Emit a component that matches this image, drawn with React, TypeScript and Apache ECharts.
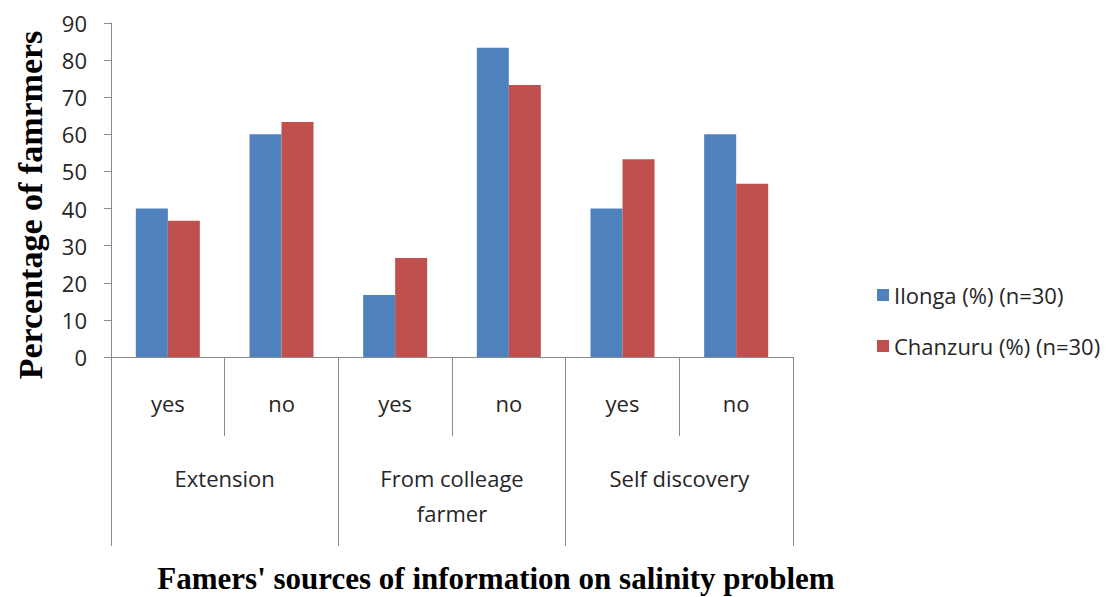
import React, { useEffect, useRef } from "react";
import * as echarts from "echarts";

const answers = ["yes", "no", "yes", "no", "yes", "no"];
const sources = ["Extension", "From colleage\nfarmer", "Self discovery"];
const ilonga = [40, 60, 16.7, 83.3, 40, 60];
const chanzuru = [36.7, 63.3, 26.7, 73.3, 53.3, 46.7];
const seriesNames = ["Ilonga (%) (n=30)", "Chanzuru (%) (n=30)"];
const yTitle = "Percentage of famrmers";
const xTitle = "Famers' sources of information on salinity problem";

const labelFont = "Open Sans";
const axisGray = "#8c8c8c";
const textColor = "#262626";

export default function App() {
  const ref = useRef<HTMLDivElement>(null);
  useEffect(() => {
    if (!ref.current) return;
    const chart = echarts.init(ref.current, null, { renderer: "svg" });
    chart.setOption({
      animation: false,
      backgroundColor: "#ffffff",
      grid: { left: 111, right: 314, top: 23, bottom: 240, containLabel: false },
      legend: {
        orient: "vertical",
        left: 872,
        top: 277,
        itemWidth: 12,
        itemHeight: 12,
        itemGap: 25,
        icon: "rect",
        textStyle: { fontFamily: labelFont, fontSize: 22, color: textColor, lineHeight: 26 },
        data: seriesNames,
      },
      xAxis: [
        {
          type: "category",
          data: answers,
          position: "bottom",
          axisLine: { show: true, lineStyle: { color: axisGray, width: 1 } },
          axisTick: { show: true, length: 79, lineStyle: { color: axisGray } },
          axisLabel: {
            margin: 33,
            fontFamily: labelFont,
            fontSize: 22,
            color: textColor,
            lineHeight: 26,
          },
        },
        {
          type: "category",
          data: sources,
          position: "bottom",
          axisLine: { show: false },
          axisTick: { show: true, length: 189, lineStyle: { color: axisGray } },
          axisLabel: {
            margin: 103,
            fontFamily: labelFont,
            fontSize: 22,
            color: textColor,
            lineHeight: 35,
          },
        },
      ],
      yAxis: {
        type: "value",
        min: 0,
        max: 90,
        interval: 10,
        axisLine: { show: true, lineStyle: { color: axisGray } },
        axisTick: { show: true, length: 7, lineStyle: { color: axisGray } },
        splitLine: { show: false },
        axisLabel: { margin: 24, fontFamily: labelFont, fontSize: 22, color: textColor },
      },
      series: [
        {
          name: seriesNames[0],
          type: "bar",
          data: ilonga,
          barWidth: 32,
          barGap: "0%",
          itemStyle: { color: "#4f81bd" },
        },
        {
          name: seriesNames[1],
          type: "bar",
          data: chanzuru,
          barWidth: 32,
          barGap: "0%",
          itemStyle: { color: "#c0504d" },
        },
      ],
      graphic: [
        {
          type: "text",
          x: 30,
          y: 205,
          rotation: Math.PI / 2,
          style: {
            text: yTitle,
            font: "bold 34px 'Liberation Serif'",
            fill: "#000",
            textAlign: "center",
            textVerticalAlign: "middle",
          },
        },
        {
          type: "text",
          x: 496,
          y: 578,
          style: {
            text: xTitle,
            font: "bold 31px 'Liberation Serif'",
            fill: "#000",
            textAlign: "center",
            textVerticalAlign: "middle",
          },
        },
      ],
    });
    return () => chart.dispose();
  }, []);
  return <div ref={ref} style={{ width: 1107, height: 597, position: "absolute", left: 0, top: 0 }} />;
}
